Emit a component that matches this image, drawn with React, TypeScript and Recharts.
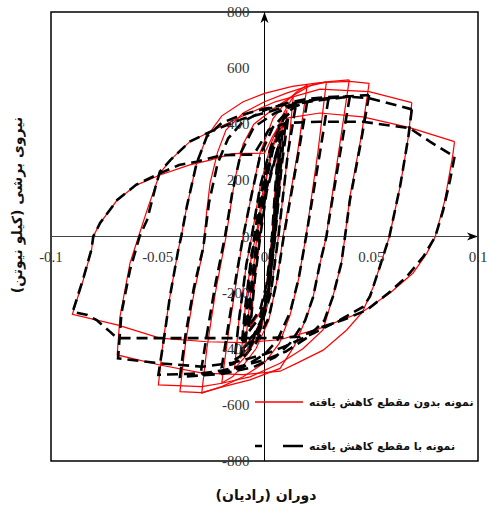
import React from 'react'
import { ComposedChart, Line, Scatter, XAxis, YAxis, ReferenceLine, ReferenceArea } from 'recharts'

type Pt = [number, number]

// red: specimen without reduced section (rotation rad, shear kN)
const red1: Pt[] = [[0.0065, 330], [0.005, 170], [0.0035, 0], [0.001, -170], [-0.002, -270], [-0.0065, -320], [-0.0045, -150], [-0.002, 0], [0.001, 160], [0.0065, 330]]
const red2: Pt[] = [[0.0085, 400], [0.0065, 220], [0.0045, 0], [0.002, -180], [-0.001, -290], [-0.005, -350], [-0.009, -390], [-0.0065, -200], [-0.0035, 0], [0, 170], [0.004, 320], [0.0085, 400]]
const red3: Pt[] = [[0.0105, 450], [0.008, 250], [0.005, 0], [0.002, -200], [-0.002, -320], [-0.007, -390], [-0.011, -430], [-0.009, -250], [-0.006, -60], [-0.004, 0], [-0.001, 150], [0.004, 330], [0.0105, 450]]
const red4: Pt[] = [[0.0135, 500], [0.011, 300], [0.0065, 0], [0.003, -200], [-0.002, -340], [-0.008, -420], [-0.014, -470], [-0.012, -300], [-0.0085, -100], [-0.006, 0], [-0.002, 180], [0.003, 330], [0.009, 440], [0.0135, 500]]
const red5: Pt[] = [[0.02, 540], [0.0155, 300], [0.0087, 0], [0.006, -150], [0.002, -300], [-0.004, -400], [-0.01, -460], [-0.015, -500], [-0.02, -522], [-0.017, -350], [-0.013, -150], [-0.01, 0], [-0.006, 150], [-0.002, 300], [0.004, 420], [0.01, 480], [0.015, 515], [0.02, 540]]
const red6: Pt[] = [[0.029, 552], [0.025, 300], [0.0194, 0], [0.016, -150], [0.012, -280], [0.007, -380], [0, -450], [-0.01, -500], [-0.02, -535], [-0.0294, -558], [-0.027, -400], [-0.023, -200], [-0.018, 0], [-0.014, 200], [-0.01, 330], [-0.005, 400], [0.005, 460], [0.015, 510], [0.022, 540], [0.029, 552]]
const red7: Pt[] = [[0.0397, 558], [0.0353, 330], [0.03, 60], [0.029, 0], [0.026, -95], [0.0228, -215], [0.0198, -286], [0.014, -390], [0.0073, -470], [-0.0068, -511], [-0.0193, -535], [-0.0294, -556], [-0.0396, -553], [-0.037, -380], [-0.033, -200], [-0.0287, -48], [-0.0282, 0], [-0.027, 94], [-0.0255, 190], [-0.022, 300], [-0.018, 380], [-0.01, 440], [0, 480], [0.01, 510], [0.02, 535], [0.03, 552], [0.0397, 558]]
const red8: Pt[] = [[0.049, 546], [0.0453, 356], [0.04, 142], [0.0377, 0], [0.036, -95], [0.032, -215], [0.0274, -333], [0.018, -400], [0.0073, -452], [-0.0068, -500], [-0.02, -523], [-0.0294, -535], [-0.0497, -529], [-0.0474, -369], [-0.0443, -214], [-0.0404, -48], [-0.039, 0], [-0.0364, 106], [-0.0318, 261], [-0.027, 356], [-0.02, 430], [-0.01, 480], [0, 510], [0.013, 535], [0.026, 548], [0.04, 553], [0.049, 546]]
const red9: Pt[] = [[0.069, 477], [0.0674, 356], [0.0635, 178], [0.0585, 0], [0.0555, -72], [0.051, -178], [0.046, -268], [0.0385, -333], [0.0275, -405], [0.015, -452], [0.0073, -480], [-0.01, -492], [-0.029, -487], [-0.049, -458], [-0.069, -422], [-0.0677, -286], [-0.063, -95], [-0.059, 0], [-0.055, 94], [-0.049, 225], [-0.044, 273], [-0.035, 338], [-0.0255, 373], [-0.01, 430], [0.005, 480], [0.026, 525], [0.049, 516], [0.069, 477]]
const red10: Pt[] = [[0.089, 338], [0.0882, 290], [0.0844, 127], [0.08, 0], [0.076, -60], [0.0696, -130], [0.0588, -201], [0.046, -268], [0.025, -330], [0.007, -368], [-0.01, -378], [-0.027, -375], [-0.049, -362], [-0.069, -315], [-0.09, -277], [-0.0849, -155], [-0.081, -48], [-0.0802, 0], [-0.077, 48], [-0.069, 130], [-0.06, 183], [-0.049, 219], [-0.035, 255], [-0.0255, 272], [-0.015, 295], [0, 297], [0.004, 360], [0.009, 420], [0.026, 440], [0.046, 426], [0.068, 388], [0.089, 338]]

// black: specimen with reduced section
const black1: Pt[] = [[0.0065, 320], [0.005, 170], [0.0035, 0], [0.001, -170], [-0.002, -260], [-0.0065, -310], [-0.0045, -150], [-0.002, 0], [0.001, 160], [0.0065, 320]]
const black1b: Pt[] = [[0.0075, 350], [0.0058, 190], [0.004, 0], [0.0012, -180], [-0.002, -285], [-0.0075, -340], [-0.0052, -160], [-0.0025, 0], [0.0008, 170], [0.0075, 350]]
const black2: Pt[] = [[0.0085, 380], [0.0065, 220], [0.0045, 0], [0.002, -180], [-0.001, -290], [-0.005, -350], [-0.009, -380], [-0.0065, -200], [-0.0035, 0], [0, 170], [0.004, 310], [0.0085, 380]]
const black2b: Pt[] = [[0.0098, 400], [0.0072, 230], [0.0048, 0], [0.002, -190], [-0.0015, -305], [-0.006, -370], [-0.0102, -400], [-0.0078, -220], [-0.0048, 0], [-0.0015, 160], [0.0035, 315], [0.0098, 400]]
const black3: Pt[] = [[0.011, 420], [0.008, 250], [0.005, 0], [0.002, -200], [-0.002, -320], [-0.007, -390], [-0.011, -415], [-0.009, -250], [-0.006, -60], [-0.004, 0], [-0.001, 150], [0.004, 320], [0.011, 420]]
const black4: Pt[] = [[0.0145, 460], [0.011, 300], [0.0065, 0], [0.003, -200], [-0.002, -330], [-0.008, -410], [-0.014, -440], [-0.012, -300], [-0.0085, -100], [-0.006, 0], [-0.002, 180], [0.003, 320], [0.009, 420], [0.0145, 460]]
const black5: Pt[] = [[0.02, 480], [0.0155, 280], [0.009, 0], [0.006, -150], [0.002, -290], [-0.004, -380], [-0.01, -430], [-0.015, -455], [-0.02, -465], [-0.017, -320], [-0.013, -130], [-0.01, 0], [-0.006, 150], [-0.002, 290], [0.004, 390], [0.01, 440], [0.015, 465], [0.02, 480]]
const black6: Pt[] = [[0.03, 493], [0.026, 300], [0.0195, 0], [0.016, -150], [0.012, -270], [0.006, -370], [0, -420], [-0.01, -465], [-0.02, -485], [-0.03, -493], [-0.027, -350], [-0.023, -170], [-0.0185, 0], [-0.015, 160], [-0.011, 300], [-0.005, 390], [0.005, 440], [0.015, 470], [0.022, 485], [0.03, 493]]
const black7: Pt[] = [[0.04, 500], [0.0355, 300], [0.03, 50], [0.029, 0], [0.026, -95], [0.0228, -215], [0.019, -300], [0.012, -380], [0.005, -430], [-0.005, -465], [-0.02, -490], [-0.0396, -500], [-0.037, -350], [-0.033, -180], [-0.0287, -40], [-0.028, 0], [-0.026, 120], [-0.022, 260], [-0.017, 350], [-0.01, 410], [0, 450], [0.01, 475], [0.02, 490], [0.03, 497], [0.04, 500]]
const black8: Pt[] = [[0.049, 504], [0.045, 330], [0.04, 130], [0.0377, 0], [0.036, -95], [0.032, -215], [0.028, -300], [0.02, -360], [0.01, -410], [0, -440], [-0.01, -460], [-0.02, -478], [-0.03, -488], [-0.0497, -493], [-0.047, -360], [-0.0443, -214], [-0.0404, -48], [-0.039, 0], [-0.0364, 106], [-0.0318, 261], [-0.027, 356], [-0.02, 405], [-0.01, 435], [0, 455], [0.013, 475], [0.026, 490], [0.04, 500], [0.049, 504]]
const black9: Pt[] = [[0.069, 453], [0.0674, 356], [0.0635, 178], [0.0585, 0], [0.054, -108], [0.0494, -214], [0.0463, -250], [0.0354, -297], [0.0229, -345], [0.01, -390], [0, -420], [-0.015, -450], [-0.029, -464], [-0.049, -452], [-0.0686, -434], [-0.067, -273], [-0.063, -119], [-0.0585, 0], [-0.055, 59], [-0.0506, 190], [-0.049, 231], [-0.044, 273], [-0.035, 338], [-0.0255, 373], [-0.01, 420], [0, 440], [0.013, 470], [0.026, 486], [0.0397, 498], [0.049, 493], [0.069, 453]]
const black10: Pt[] = [[0.089, 284], [0.0869, 201], [0.0837, 94], [0.08, 0], [0.0744, -72], [0.0666, -143], [0.0588, -197], [0.0479, -262], [0.037, -297], [0.0275, -321], [0.0166, -357], [0, -362], [-0.03, -362], [-0.069, -362], [-0.0724, -339], [-0.0786, -298], [-0.083, -280], [-0.0898, -268], [-0.0849, -150], [-0.081, -45], [-0.0802, 0], [-0.077, 48], [-0.069, 130], [-0.06, 185], [-0.049, 225], [-0.04, 255], [-0.032, 266], [-0.02, 290], [-0.005, 292], [0.002, 380], [0.01, 405], [0.026, 409], [0.046, 409], [0.068, 386], [0.0775, 338], [0.089, 284]]

const redLoops = [red1, red2, red3, red4, red5, red6, red7, red8, red9, red10]
const blackLoops = [black1, black1b, black2, black2b, black3, black4, black5, black6, black7, black8, black9, black10]

const xTicks = [-0.1, -0.05, 0, 0.05, 0.1]
const yTicks = [800, 600, 400, 200, 0, -200, -400, -600, -800]

const toPts = (a: Pt[]) => a.map(([x, y]) => ({ x, y }))

const tickFont = { fontFamily: '"Liberation Serif", serif', fontSize: 15, fill: '#333' }
const faFont = '"DejaVu Sans", sans-serif'

const YTick = (p: any) => (
  <text x={p.cx - 15} y={p.cy + 5} textAnchor="end" {...tickFont}>{p.payload.y}</text>
)
const XTick = (p: any) => (
  <text x={p.cx} y={p.cy + 25} textAnchor="middle" {...tickFont}>{p.payload.x}</text>
)
const UpArrow = (p: any) => (
  <polygon points={`${p.cx},${p.cy} ${p.cx - 4},${p.cy + 11} ${p.cx},${p.cy + 8} ${p.cx + 4},${p.cy + 11}`} fill="#000" />
)
const RightArrow = (p: any) => (
  <polygon points={`${p.cx},${p.cy} ${p.cx - 11},${p.cy - 4} ${p.cx - 8},${p.cy} ${p.cx - 11},${p.cy + 4}`} fill="#000" />
)

const legendText = { fontFamily: faFont, fontSize: 11, fontWeight: 'bold' as const, marginLeft: 6, color: '#111', whiteSpace: 'nowrap' as const }

export default function App() {
  return (
    <div style={{ position: 'relative', width: 489, height: 506, background: '#fff' }}>
      <style>{'body{margin:0}'}</style>
      <ComposedChart width={489} height={506} margin={{ top: 12, right: 11, bottom: 45, left: 51 }}>
        <XAxis type="number" dataKey="x" domain={[-0.1, 0.1]} hide />
        <YAxis type="number" dataKey="y" domain={[-800, 800]} hide />
        <ReferenceArea x1={-0.1} x2={0.1} y1={-800} y2={800} fill="none" stroke="#000" strokeWidth={1.5} />
        <ReferenceLine x={0} stroke="#000" strokeWidth={1} />
        <ReferenceLine y={0} stroke="#444" strokeWidth={1} />
        {redLoops.map((l, i) => (
          <Line key={'r' + i} data={toPts(l)} dataKey="y" type="linear" stroke="#ff0000" strokeWidth={1.2}
            dot={false} activeDot={false} isAnimationActive={false} />
        ))}
        {blackLoops.map((l, i) => (
          <Line key={'b' + i} data={toPts(l)} dataKey="y" type="linear" stroke="#000" strokeWidth={2.6}
            strokeDasharray="11 6" dot={false} activeDot={false} isAnimationActive={false} />
        ))}
        <Scatter data={yTicks.map((y) => ({ x: 0, y }))} shape={YTick} isAnimationActive={false} />
        <Scatter data={xTicks.map((x) => ({ x, y: 0 }))} shape={XTick} isAnimationActive={false} />
        <Scatter data={[{ x: 0, y: 800 }]} shape={UpArrow} isAnimationActive={false} />
        <Scatter data={[{ x: 0.1, y: 0 }]} shape={RightArrow} isAnimationActive={false} />
      </ComposedChart>

      <div style={{ position: 'absolute', left: 255, top: 392, width: 230 }}>
        <div style={{ display: 'flex', alignItems: 'center', height: 20 }}>
          <svg width={48} height={6}><line x1={0} y1={3} x2={48} y2={3} stroke="#ff0000" strokeWidth={1.3} /></svg>
          <span dir="rtl" style={legendText}>نمونه بدون مقطع کاهش یافته</span>
        </div>
        <div style={{ display: 'flex', alignItems: 'center', height: 20, marginTop: 24 }}>
          <svg width={48} height={6}><line x1={0} y1={3} x2={48} y2={3} stroke="#000" strokeWidth={2.6} strokeDasharray="7 21 20 0" /></svg>
          <span dir="rtl" style={legendText}>نمونه با مقطع کاهش یافته</span>
        </div>
      </div>

      <div dir="rtl" style={{ position: 'absolute', left: 17, top: 205, transform: 'translate(-50%, -50%) rotate(-90deg)', whiteSpace: 'nowrap', fontFamily: faFont, fontSize: 14, fontWeight: 'bold', color: '#111' }}>
        نیروی برشی (کیلو نیوتن)
      </div>
      <div dir="rtl" style={{ position: 'absolute', left: 266, top: 495, transform: 'translate(-50%, -50%)', whiteSpace: 'nowrap', fontFamily: faFont, fontSize: 14, fontWeight: 'bold', color: '#111' }}>
        دوران (رادیان)
      </div>
    </div>
  )
}
